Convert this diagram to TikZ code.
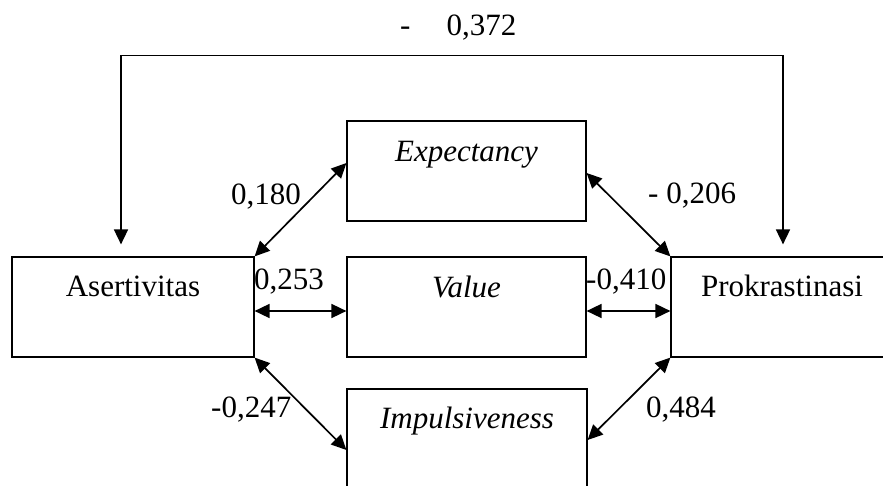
\documentclass[tikz,border=0pt]{standalone}
\usepackage{fontspec}
\setmainfont{Liberation Serif}
\usetikzlibrary{arrows.meta}
\begin{document}
\begin{tikzpicture}[x=1pt,y=-1pt,
  box/.style={draw,line width=1.2pt,inner sep=0pt,font=\fontsize{31}{37}\selectfont},
  lab/.style={inner sep=0pt,anchor=base west,font=\fontsize{31}{37}\selectfont},
  conn/.style={line width=1.7pt,{Triangle[length=15pt,width=14pt]}-{Triangle[length=15pt,width=14pt]}}]
\useasboundingbox (0,0) rectangle (883,486);
\clip (0,0) rectangle (883,486);
\node[box,minimum width=242pt,text height=40pt,text depth=60pt] (A) at (133,307) {Asertivitas};
\node[box,minimum width=239pt,text height=41pt,text depth=59pt] (E) at (466.5,171) {\itshape Expectancy};
\node[box,minimum width=239pt,text height=41pt,text depth=59pt] (V) at (466.5,307) {\itshape Value};
\node[box,minimum width=240pt,text height=39pt,text depth=61pt] (I) at (467,439) {\itshape Impulsiveness};
\node[box,minimum width=222pt,text height=40pt,text depth=60pt] (P) at (782,307) {Prokrastinasi};
% connectors
\draw[conn] ([xshift=-12pt,yshift=12pt]A.north) -- ++(0,-189) -| ([xshift=1pt,yshift=12pt]P.north);
\draw[conn] (A.north east) -- ([yshift=8pt]E.west);
\draw[conn] ([yshift=-2pt]E.east) -- (P.north west);
\draw[conn] ([yshift=-4pt]A.east) -- ([yshift=-4pt]V.west);
\draw[conn] ([yshift=-4pt]V.east) -- ([yshift=-4pt]P.west);
\draw[conn] (A.south east) -- ([yshift=-11pt]I.west);
\draw[conn] (P.south west) -- ([yshift=-1pt]I.east);
% labels
\node[lab] (l1) at (400,36) {-\hspace{36pt}0,372};
\node[lab] (l2) at (231,205) {0,180};
\node[lab] (l3) at (648,204) {- 0,206};
\node[lab] (l4) at (254,289) {0,253};
\node[lab] (l5) at (586,289) {-0,410};
\node[lab] (l6) at (211,417) {-0,247};
\node[lab] (l7) at (646,417) {0,484};
\end{tikzpicture}
\end{document}
